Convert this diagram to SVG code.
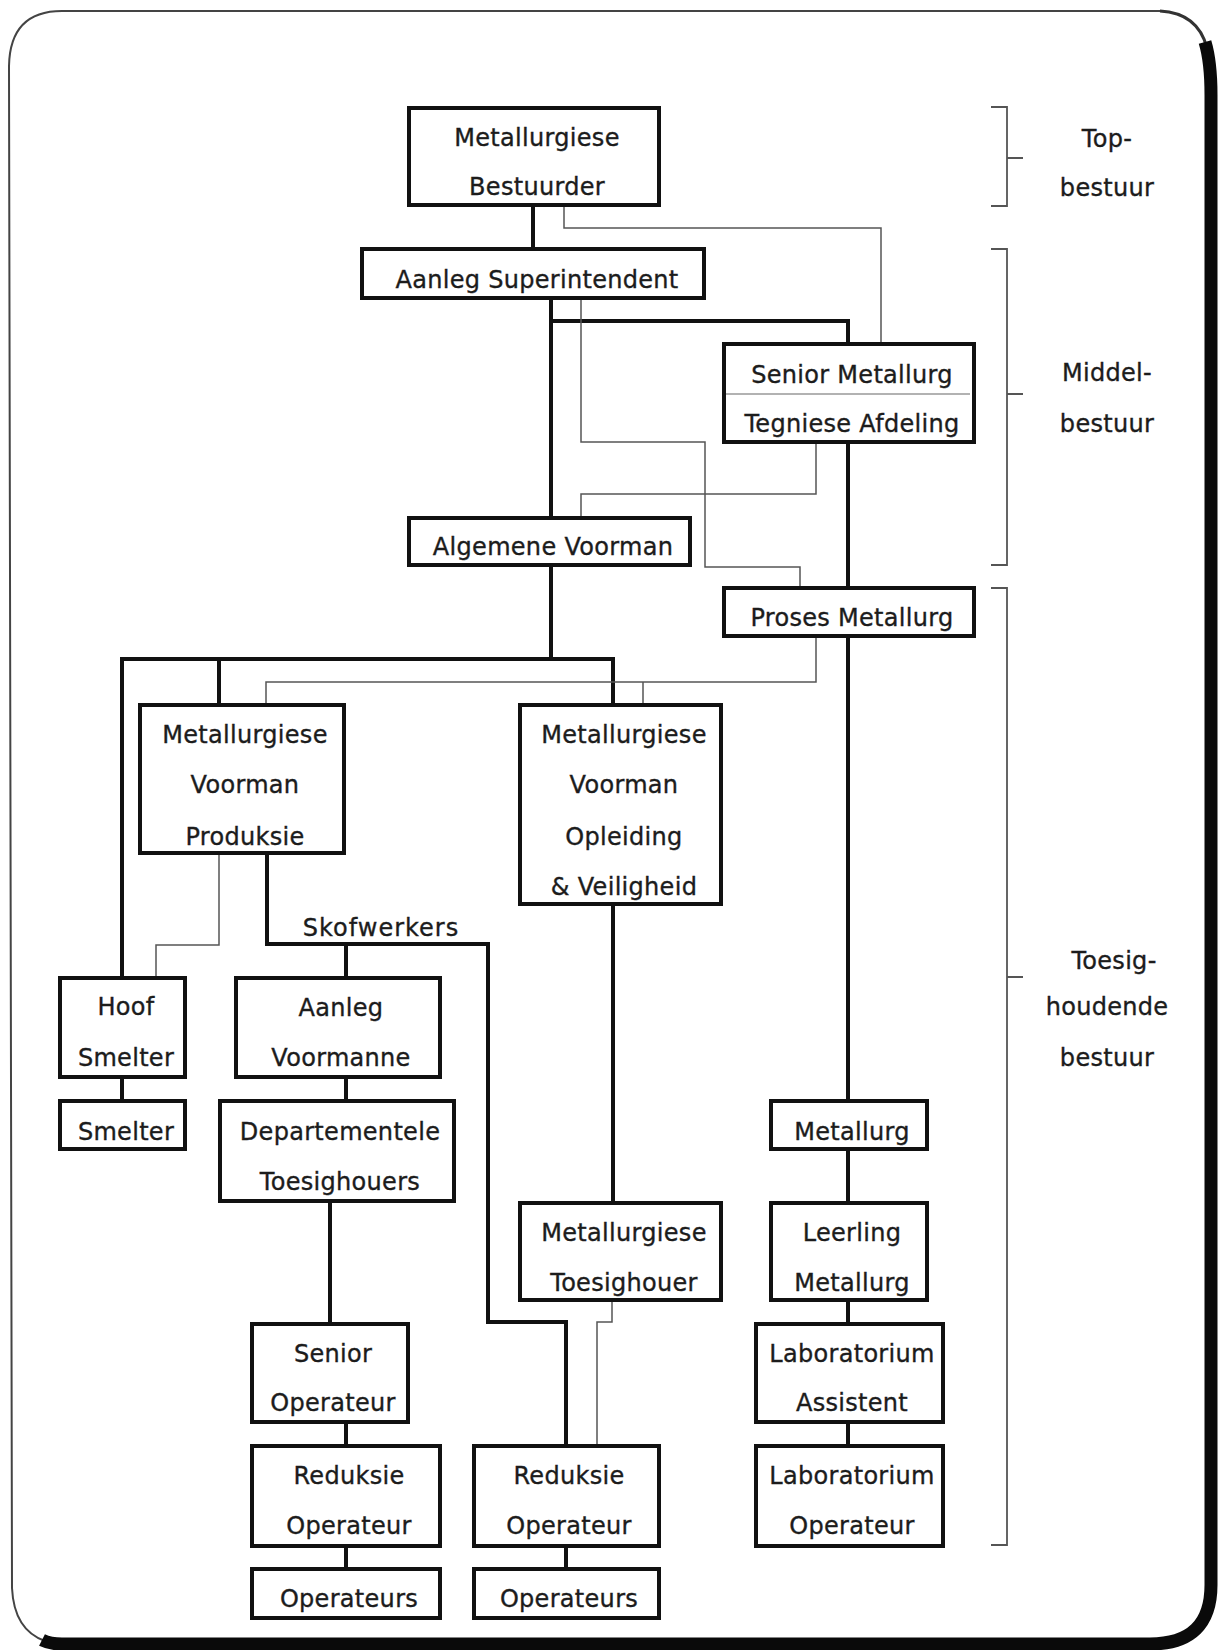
<svg xmlns="http://www.w3.org/2000/svg" width="1219" height="1650" viewBox="0 0 1219 1650">
<style>
.box{fill:#fff;stroke:#111;stroke-width:4}
.t{font-family:"DejaVu Sans","Liberation Sans",sans-serif;font-size:24px;fill:#1c1c1c;stroke:#1c1c1c;stroke-width:0.35;text-anchor:middle;letter-spacing:0.3px}
.thick{fill:none;stroke:#111;stroke-width:4;stroke-linejoin:miter}
.thin{fill:none;stroke:#555;stroke-width:1.5}
.br{fill:none;stroke:#555;stroke-width:1.8}
</style>
<rect width="1219" height="1650" fill="#fff"/>
<g id="frame">
<path d="M1160,11 L62,11 Q10,11 9,66 L12,1588 Q14,1630 45,1641" fill="none" stroke="#444" stroke-width="2"/>
<path d="M1160,11 Q1198,13 1207,48" fill="none" stroke="#333" stroke-width="3"/>
<path d="M1205,42 Q1211,62 1211,95 L1211,1585 Q1211,1644 1150,1644 L62,1644 Q50,1644 42,1640" fill="none" stroke="#0a0a0a" stroke-width="13"/>
</g>
<g id="connectors">
<path class="thick" d="M533,207 V247"/>
<path class="thick" d="M551,300 V516"/>
<path class="thick" d="M551,321 H848 V342"/>
<path class="thick" d="M848,444 V586"/>
<path class="thick" d="M848,638 V1099"/>
<path class="thick" d="M551,567 V659"/>
<path class="thick" d="M122,976 V659 H613 V703"/>
<path class="thick" d="M219,659 V703"/>
<path class="thick" d="M267,855 V944 H488 V1322 H566 V1444"/>
<path class="thick" d="M346,944 V976"/>
<path class="thick" d="M122,1079 V1099"/>
<path class="thick" d="M346,1079 V1099"/>
<path class="thick" d="M330,1203 V1322"/>
<path class="thick" d="M613,906 V1201"/>
<path class="thick" d="M848,1151 V1201"/>
<path class="thick" d="M848,1302 V1322"/>
<path class="thick" d="M848,1424 V1444"/>
<path class="thick" d="M346,1424 V1444"/>
<path class="thick" d="M346,1548 V1567"/>
<path class="thick" d="M566,1548 V1567"/>
<path class="thin" d="M564,207 V228 H881 V342"/>
<path class="thin" d="M581,300 V442 H705 V567 H800 V586"/>
<path class="thin" d="M816,444 V494 H581 V516"/>
<path class="thin" d="M816,638 V682 H266 V703"/>
<path class="thin" d="M643,682 V703"/>
<path class="thin" d="M219,855 V945 H156 V976"/>
<path class="thin" d="M612,1302 V1322 H597 V1444"/>
</g>
<g id="brackets">
<path class="br" d="M991,107 H1007 V206 H991 M1007,158 H1023"/>
<path class="br" d="M991,249 H1007 V565 H991 M1007,394 H1023"/>
<path class="br" d="M991,588 H1007 V1545 H991 M1007,977 H1023"/>
<text class="t" x="1107" y="147">Top-</text>
<text class="t" x="1107" y="196">bestuur</text>
<text class="t" x="1107" y="381">Middel-</text>
<text class="t" x="1107" y="432">bestuur</text>
<text class="t" x="1114" y="969">Toesig-</text>
<text class="t" x="1107" y="1015">houdende</text>
<text class="t" x="1107" y="1066">bestuur</text>
</g>
<g id="n1"><rect class="box" x="409" y="108" width="250" height="97"/><text class="t" x="537" y="146">Metallurgiese</text><text class="t" x="537" y="195">Bestuurder</text></g>
<g id="n2"><rect class="box" x="362" y="249" width="342" height="49"/><text class="t" x="537" y="288">Aanleg Superintendent</text></g>
<g id="n3"><rect class="box" x="724" y="344" width="250" height="98"/><line x1="726" y1="394" x2="970" y2="394" stroke="#666" stroke-width="1.2"/><text class="t" x="852" y="383">Senior Metallurg</text><text class="t" x="852" y="432">Tegniese Afdeling</text></g>
<g id="n4"><rect class="box" x="409" y="518" width="281" height="47"/><text class="t" x="553" y="555">Algemene Voorman</text></g>
<g id="n5"><rect class="box" x="724" y="588" width="250" height="48"/><text class="t" x="852" y="626">Proses Metallurg</text></g>
<g id="n6"><rect class="box" x="140" y="705" width="204" height="148"/><text class="t" x="245" y="743">Metallurgiese</text><text class="t" x="245" y="793">Voorman</text><text class="t" x="245" y="845">Produksie</text></g>
<g id="n7"><rect class="box" x="520" y="705" width="201" height="199"/><text class="t" x="624" y="743">Metallurgiese</text><text class="t" x="624" y="793">Voorman</text><text class="t" x="624" y="845">Opleiding</text><text class="t" x="624" y="895">&amp; Veiligheid</text></g>
<text class="t" x="381" y="936" style="letter-spacing:1px">Skofwerkers</text>
<g id="n8"><rect class="box" x="60" y="978" width="125" height="99"/><text class="t" x="126" y="1015">Hoof</text><text class="t" x="126" y="1066">Smelter</text></g>
<g id="n9"><rect class="box" x="60" y="1101" width="125" height="48"/><text class="t" x="126" y="1140">Smelter</text></g>
<g id="n10"><rect class="box" x="236" y="978" width="204" height="99"/><text class="t" x="341" y="1016">Aanleg</text><text class="t" x="341" y="1066">Voormanne</text></g>
<g id="n11"><rect class="box" x="220" y="1101" width="234" height="100"/><text class="t" x="340" y="1140">Departementele</text><text class="t" x="340" y="1190">Toesighouers</text></g>
<g id="n12"><rect class="box" x="771" y="1101" width="156" height="48"/><text class="t" x="852" y="1140">Metallurg</text></g>
<g id="n13"><rect class="box" x="771" y="1203" width="156" height="97"/><text class="t" x="852" y="1241">Leerling</text><text class="t" x="852" y="1291">Metallurg</text></g>
<g id="n14"><rect class="box" x="520" y="1203" width="201" height="97"/><text class="t" x="624" y="1241">Metallurgiese</text><text class="t" x="624" y="1291">Toesighouer</text></g>
<g id="n15"><rect class="box" x="252" y="1324" width="156" height="98"/><text class="t" x="333" y="1362">Senior</text><text class="t" x="333" y="1411">Operateur</text></g>
<g id="n16"><rect class="box" x="252" y="1446" width="188" height="100"/><text class="t" x="349" y="1484">Reduksie</text><text class="t" x="349" y="1534">Operateur</text></g>
<g id="n17"><rect class="box" x="252" y="1569" width="188" height="49"/><text class="t" x="349" y="1607">Operateurs</text></g>
<g id="n18"><rect class="box" x="474" y="1446" width="185" height="100"/><text class="t" x="569" y="1484">Reduksie</text><text class="t" x="569" y="1534">Operateur</text></g>
<g id="n19"><rect class="box" x="474" y="1569" width="185" height="49"/><text class="t" x="569" y="1607">Operateurs</text></g>
<g id="n20"><rect class="box" x="756" y="1324" width="187" height="98"/><text class="t" x="852" y="1362">Laboratorium</text><text class="t" x="852" y="1411">Assistent</text></g>
<g id="n21"><rect class="box" x="756" y="1446" width="187" height="100"/><text class="t" x="852" y="1484">Laboratorium</text><text class="t" x="852" y="1534">Operateur</text></g>
</svg>
